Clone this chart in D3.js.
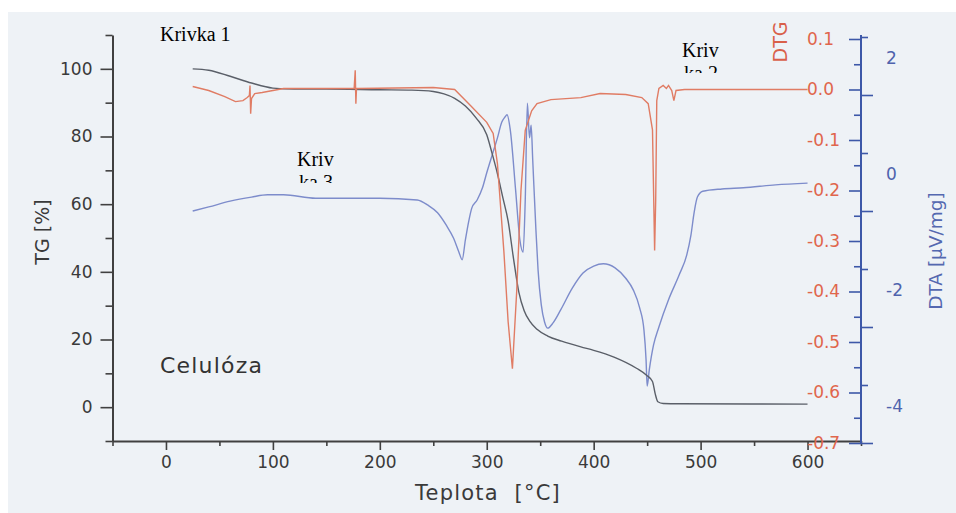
<!DOCTYPE html>
<html>
<head>
<meta charset="utf-8">
<script src="https://cdn.jsdelivr.net/npm/d3@7"></script>
<style>
  body { margin: 0; background: #fff; }
  svg { display: block; }
</style>
</head>
<body>
<svg id="chart" width="956" height="513"></svg>
<script>
// TG curve (mass %, left axis)
const tgTemp  = [25, 40, 60, 80, 100, 120, 150, 200, 230, 250, 260, 270, 280, 290, 300, 305, 310, 315, 320, 325, 330, 335, 340, 347, 357, 370, 388, 400, 419, 440, 450, 455, 457.5, 460, 465, 480, 600];
const tgValue = [100, 99.6, 97.8, 95.8, 94.3, 94, 94, 93.8, 93.7, 93.3, 92.6, 91.3, 89, 85.5, 80.5, 75, 69, 62, 55, 44, 34, 28.5, 25.5, 23, 21, 19.5, 17.8, 16.8, 14.8, 11.5, 9.3, 7.6, 4, 1.6, 1.1, 1, 0.9];

// DTG curve (right inner axis)
const dtgTemp  = [25, 40, 55, 65, 72, 76, 78, 78.6, 79.2, 80, 83, 90, 100, 110, 150, 176, 177, 177.6, 178.2, 180, 250, 270, 285, 300, 306, 310, 316, 320, 324, 328, 332, 336, 342, 347, 360, 388, 406, 430, 445, 451, 455, 457, 458, 459, 461, 465, 468, 470, 473, 475, 477, 485, 600];
const dtgValue = [0.006, -0.002, -0.014, -0.024, -0.022, -0.016, -0.012, 0.008, -0.048, -0.018, -0.008, -0.006, -0.002, 0.002, 0.002, 0.002, 0.038, -0.028, 0.002, 0.002, 0.004, 0, -0.032, -0.065, -0.087, -0.147, -0.32, -0.46, -0.553, -0.4, -0.2, -0.081, -0.042, -0.028, -0.02, -0.016, -0.008, -0.01, -0.016, -0.028, -0.08, -0.319, -0.22, -0.022, 0.002, 0.008, 0.002, 0.008, -0.002, -0.022, -0.002, 0, 0];

// DTA curve (uV/mg, right outer axis)
const dtaTemp  = [25, 40, 60, 80, 95, 110, 140, 200, 235, 245, 254, 262, 269, 274, 277, 280, 283, 286, 291, 296, 300, 306, 310, 314, 317, 319, 322, 327, 331, 334, 336, 338, 340, 341.5, 343, 346, 348, 351, 354, 357, 362, 369, 380, 390, 400, 409, 420, 430, 437, 443, 447, 449, 450, 452, 456, 461, 470, 480, 487, 491, 494, 497, 502, 520, 540, 570, 600];
const dtaValue = [0, 0.07, 0.17, 0.24, 0.28, 0.28, 0.22, 0.22, 0.19, 0.1, -0.03, -0.24, -0.47, -0.71, -0.84, -0.5, -0.19, 0.05, 0.19, 0.4, 0.66, 1.02, 1.26, 1.53, 1.62, 1.66, 1.4, 0.36, -0.5, -0.71, 0.19, 1.86, 1.26, 1.48, 0.88, -0.33, -1.02, -1.62, -1.91, -2.02, -1.93, -1.71, -1.33, -1.07, -0.95, -0.91, -0.98, -1.16, -1.36, -1.67, -2.05, -2.57, -3.02, -2.74, -2.31, -2, -1.53, -1.1, -0.76, -0.41, -0.02, 0.24, 0.34, 0.38, 0.4, 0.45, 0.48];

// axis ticks
const xTicks = [0, 100, 200, 300, 400, 500, 600];
const xMinor = [-50, 50, 150, 250, 350, 450, 550, 650];
const tgTicks = [0, 20, 40, 60, 80, 100];
const tgMinor = [-10, 10, 30, 50, 70, 90, 110];
const dtgTicks = [0.1, 0, -0.1, -0.2, -0.3, -0.4, -0.5, -0.6, -0.7];
const dtgMinor = [0.05, -0.05, -0.15, -0.25, -0.35, -0.45, -0.55, -0.65];
const dtaTicks = [2, 0, -2, -4];
const dtaMinor = [3, 1, -1, -3];

const svg = d3.select("#chart");
const sans = "'DejaVu Sans', sans-serif";
const serif = "'Liberation Serif', 'Times New Roman', serif";

// scanned paper
svg.append("rect")
  .attr("x", 8).attr("y", 12)
  .attr("width", 948).attr("height", 501)
  .attr("fill", "#eef2f6");

const x = d3.scaleLinear().domain([-50, 650]).range([112.5, 861]);
const yTG = d3.scaleLinear().domain([-10, 110]).range([441, 35]);
const yDTG = d3.scaleLinear().domain([-0.7, 0.1]).range([443, 39]);
const yDTA = d3.scaleLinear().domain([-4, 3]).range([443, 37]);

function styleAxis(g, color, size) {
  g.selectAll("path.domain").attr("stroke", color).attr("stroke-width", 2);
  g.selectAll(".tick line").attr("stroke", color).attr("stroke-width", 1.6);
  g.selectAll("text").style("font-family", sans).style("font-size", size + "px");
}

// curves
const pts = (xs, ys) => d3.zip(xs, ys);

svg.append("path")
  .datum(pts(dtaTemp, dtaValue))
  .attr("fill", "none")
  .attr("stroke", "#7d8ccb")
  .attr("stroke-width", 1.4)
  .attr("d", d3.line().curve(d3.curveMonotoneX).x(d => x(d[0])).y(d => yDTA(d[1])));

svg.append("path")
  .datum(pts(tgTemp, tgValue))
  .attr("fill", "none")
  .attr("stroke", "#5a5f68")
  .attr("stroke-width", 1.4)
  .attr("d", d3.line().curve(d3.curveMonotoneX).x(d => x(d[0])).y(d => yTG(d[1])));

svg.append("path")
  .datum(pts(dtgTemp, dtgValue))
  .attr("fill", "none")
  .attr("stroke", "#e07c64")
  .attr("stroke-width", 1.4)
  .attr("d", d3.line().x(d => x(d[0])).y(d => yDTG(d[1])));

// bottom axis
const xAxis = svg.append("g")
  .attr("transform", `translate(0,${yTG(-10)})`)
  .call(d3.axisBottom(x).tickValues(xTicks).tickSize(9).tickSizeOuter(0).tickPadding(6));
styleAxis(xAxis, "#404040", 17);
xAxis.selectAll("text").attr("fill", "#3a3a3a");

const xAxisMinor = svg.append("g")
  .attr("transform", `translate(0,${yTG(-10)})`)
  .call(d3.axisBottom(x).tickValues(xMinor).tickSize(5).tickFormat(""));
xAxisMinor.select("path.domain").remove();
styleAxis(xAxisMinor, "#404040", 17);

// left TG axis
const tgAxis = svg.append("g")
  .attr("transform", `translate(${x(-50)},0)`)
  .call(d3.axisLeft(yTG).tickValues(tgTicks).tickSize(12).tickSizeOuter(0).tickPadding(8));
styleAxis(tgAxis, "#404040", 17);
tgAxis.selectAll("text").attr("fill", "#3a3a3a");

const tgAxisMinor = svg.append("g")
  .attr("transform", `translate(${x(-50)},0)`)
  .call(d3.axisLeft(yTG).tickValues(tgMinor).tickSize(7).tickFormat(""));
tgAxisMinor.select("path.domain").remove();
styleAxis(tgAxisMinor, "#404040", 17);

// right DTG axis (ticks to the left)
const rightX = x(650);
const dtgAxis = svg.append("g")
  .attr("transform", `translate(${rightX},0)`)
  .call(d3.axisLeft(yDTG).tickValues(dtgTicks).tickSize(12).tickSizeOuter(0)
    .tickFormat(d => d.toFixed(1)));
styleAxis(dtgAxis, "#3d58a8", 17);
dtgAxis.select("path.domain").remove();
dtgAxis.selectAll("text").attr("fill", "#e0664c").attr("text-anchor", "start").attr("x", -54);

const dtgAxisMinor = svg.append("g")
  .attr("transform", `translate(${rightX},0)`)
  .call(d3.axisLeft(yDTG).tickValues(dtgMinor).tickSize(7).tickFormat(""));
dtgAxisMinor.select("path.domain").remove();
styleAxis(dtgAxisMinor, "#3d58a8", 17);

// right DTA axis (ticks to the right, labels sit above their ticks)
const dtaAxis = svg.append("g")
  .attr("transform", `translate(${rightX},0)`)
  .call(d3.axisRight(yDTA).tickValues(dtaTicks).tickSize(12).tickSizeOuter(0)
    .tickFormat(d => String(d)));
styleAxis(dtaAxis, "#3d58a8", 17);
dtaAxis.select("path.domain").attr("d", `M0,${yDTG(0.1) - 4}V${yDTA(-4)}`);
dtaAxis.selectAll("text").attr("fill", "#4f63ad").attr("text-anchor", "start").attr("x", 25).attr("y", -37);

const dtaAxisMinor = svg.append("g")
  .attr("transform", `translate(${rightX},0)`)
  .call(d3.axisRight(yDTA).tickValues(dtaMinor).tickSize(7).tickFormat(""));
dtaAxisMinor.select("path.domain").remove();
styleAxis(dtaAxisMinor, "#3d58a8", 17);

// axis titles
svg.append("text")
  .attr("transform", "translate(49,232) rotate(-90)")
  .attr("text-anchor", "middle")
  .style("font-family", sans).style("font-size", "19px")
  .attr("fill", "#3a3a3a")
  .text("TG [%]");

svg.append("text")
  .attr("transform", "translate(787,42) rotate(-90)")
  .attr("text-anchor", "middle")
  .style("font-family", sans).style("font-size", "19px")
  .attr("fill", "#d9604a")
  .text("DTG");

svg.append("text")
  .attr("transform", "translate(942,251) rotate(-90)")
  .attr("text-anchor", "middle")
  .style("font-family", sans).style("font-size", "18.5px")
  .attr("fill", "#5468b0")
  .text("DTA [µV/mg]");

svg.append("text")
  .attr("x", 488).attr("y", 500)
  .attr("text-anchor", "middle")
  .style("font-family", sans).style("font-size", "21px")
  .style("letter-spacing", "1.2px")
  .style("white-space", "pre")
  .attr("fill", "#3a3a3a")
  .text("Teplota  [°C]");

svg.append("text")
  .attr("x", 160).attr("y", 373)
  .style("font-family", sans).style("font-size", "22px")
  .style("letter-spacing", "1.2px")
  .attr("fill", "#333")
  .text("Celulóza");

// curve annotations (wrapped text boxes, second line cut off)
svg.append("text")
  .attr("x", 160).attr("y", 41)
  .style("font-family", serif).style("font-size", "20px")
  .attr("fill", "#000")
  .text("Krivka 1");

const notes = [
  { id: "clip2", x: 682, y: 57, bottom: 73, lines: ["Kriv", "ka 2"] },
  { id: "clip3", x: 297, y: 166, bottom: 183, lines: ["Kriv", "ka 3"] }
];
const defs = svg.append("defs");
notes.forEach(n => {
  defs.append("clipPath").attr("id", n.id)
    .append("rect").attr("x", n.x - 5).attr("y", n.y - 25)
    .attr("width", 60).attr("height", n.bottom - (n.y - 25));
  const t = svg.append("text")
    .attr("clip-path", `url(#${n.id})`)
    .style("font-family", serif).style("font-size", "20px")
    .attr("fill", "#000");
  n.lines.forEach((l, i) => {
    t.append("tspan").attr("x", n.x + i * 2).attr("y", n.y + i * 23).text(l);
  });
});
</script>
</body>
</html>
